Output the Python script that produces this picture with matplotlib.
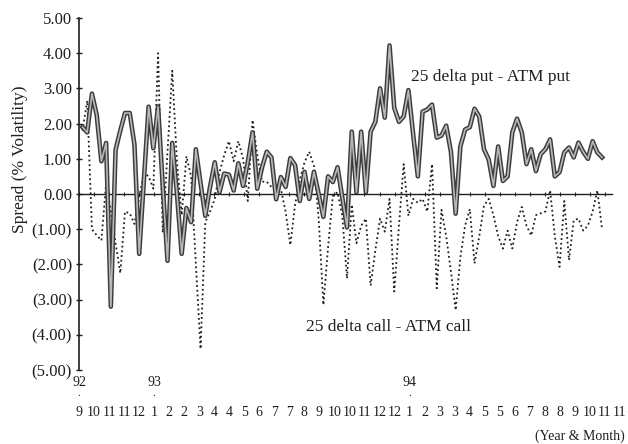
import numpy as np
import matplotlib.pyplot as plt

# weekly spreads, % volatility
put_spread = [1.9, 1.75, 2.85, 2.25, 0.93, 1.45, -3.2, 1.25, 1.8, 2.3,
              2.3, 1.4, -1.7, 0.4, 2.48, 1.3, 2.48, 0.2, -1.9, 1.45,
              0.0, -1.7, -0.4, -0.8, 1.27, 0.3, -0.62, 0.2, 0.9, 0.05,
              0.58, 0.55, 0.1, 0.87, 0.23, 0.9, 1.75, 0.15, 0.75, 1.2,
              1.04, -0.15, 0.48, 0.2, 1.02, 0.82, -0.2, 0.63, -0.14, 0.63,
              0.0, -0.65, 0.5, 0.34, 0.76, -0.1, -0.95, 1.77, 0.05, 1.77,
              0.05, 1.77, 2.05, 3.0, 2.17, 4.22, 2.45, 2.05, 2.2, 2.95,
              1.7, 0.5, 2.34, 2.4, 2.54, 1.6, 1.66, 1.94, 1.2, -0.56,
              1.35, 1.83, 1.9, 2.42, 2.2, 1.27, 0.98, 0.23, 1.35, 0.37,
              0.5, 1.75, 2.14, 1.75, 0.85, 1.27, 0.65, 1.13, 1.27, 1.55,
              0.5, 0.62, 1.18, 1.32, 1.04, 1.46, 1.2, 1.0, 1.5, 1.18,
              1.04]

call_spread = [1.8, 2.65, -1.0, -1.17, -1.32, 0.3, -0.5, -1.4, -2.25, -0.5,
               -0.55, -0.85, -0.1, 0.6, 0.5, 0.15, 4.0, -1.1, 1.2, 3.5,
               0.9, -0.6, 1.07, 0.5, -2.0, -4.4, -0.8, -0.5, -0.14, 0.62,
               1.1, 1.5, 0.93, 1.5, 1.0, -0.2, 2.1, 1.1, 0.35, 0.35,
               0.2, 0.15, 0.14, -0.5, -1.45, -0.3, 0.4, 0.9, 1.2, 0.8,
               -0.7, -3.15, -1.5, -0.05, 0.05, -0.62, -2.4, -0.3, -1.4, -0.9,
               -0.7, -2.6, -1.6, -0.7, -1.07, -0.14, -2.77, -0.9, 0.85, -0.62,
               -0.14, -0.25, -0.14, -0.5, 0.85, -2.68, -0.45, -1.2, -2.2, -3.3,
               -1.8, -0.9, -0.43, -1.97, -1.2, -0.34, -0.14, -0.6, -1.2, -1.55,
               -1.04, -1.55, -0.8, -0.37, -0.9, -1.18, -0.6, -0.55, -0.5, 0.1,
               -1.2, -2.07, -0.2, -1.88, -0.75, -0.7, -1.04, -0.9, -0.5, 0.1,
               -1.0]

month_labels = ['9', '10', '11', '11', '12', '1', '2', '2', '3', '4', '4', '5',
                '6', '7', '7', '8', '9', '10', '10', '11', '12', '12', '1', '2',
                '3', '3', '4', '5', '5', '6', '7', '8', '8', '9', '10', '11', '11']
year_labels = {0: '92', 5: '93', 22: '94'}

y_ticks = [5, 4, 3, 2, 1, 0, -1, -2, -3, -4, -5]

serif = 'Liberation Serif'
ink = '#1e1e1e'

weeks = np.arange(len(put_spread))
# month labels sit every ~3.18 weeks, first one slightly left of the axis
label_pos = -0.74 + 3.181 * np.arange(len(month_labels))

fig = plt.figure(figsize=(6.28, 4.44), dpi=100)
ax = fig.add_axes([0.1258, 0.1667, 0.8487, 0.7928])

ax.plot(weeks, put_spread, color='#3c3c3c', lw=3.3, solid_joinstyle='round', zorder=3)
ax.plot(weeks, put_spread, color='#b8b8b8', lw=1.2, solid_joinstyle='round', zorder=4)
ax.plot(weeks, call_spread, color=ink, lw=1.3, linestyle=(0, (1, 1.6)), zorder=2)

ax.set_xlim(-0.1, 112.1)
ax.set_ylim(-5, 5)

ax.spines['top'].set_visible(False)
ax.spines['right'].set_visible(False)
ax.spines['left'].set_color(ink)
ax.spines['left'].set_linewidth(1.2)
ax.spines['bottom'].set_position(('data', 0))
ax.spines['bottom'].set_color(ink)
ax.spines['bottom'].set_linewidth(1.0)

ax.set_yticks(y_ticks)
ax.set_yticklabels(['%.2f' % v if v >= 0 else '(%.2f)' % -v for v in y_ticks],
                   fontfamily=serif, fontsize=12, color=ink)
ax.tick_params(axis='y', direction='inout', length=4, width=1, pad=3, colors=ink)

ax.set_xticks(label_pos[label_pos <= 112.1])
ax.tick_params(axis='x', direction='inout', length=3, width=0.8, labelbottom=False, colors=ink)

for k, lab in enumerate(month_labels):
    ax.text(label_pos[k], -0.122, lab, transform=ax.get_xaxis_transform(),
            ha='center', va='center', fontfamily=serif, fontsize=10, color=ink,
            clip_on=False)
for k, lab in year_labels.items():
    ax.text(label_pos[k], -0.036, lab, transform=ax.get_xaxis_transform(),
            ha='center', va='center', fontfamily=serif, fontsize=10, color=ink,
            clip_on=False)
    ax.text(label_pos[k], -0.08, '.', transform=ax.get_xaxis_transform(),
            ha='center', va='bottom', fontfamily=serif, fontsize=8, color=ink,
            clip_on=False)

ax.text(1.024, -0.188, '(Year & Month)', transform=ax.transAxes, ha='right',
        va='center', fontfamily=serif, fontsize=10, color=ink, clip_on=False)

ax.set_ylabel('Spread (% Volatility)', fontfamily=serif, fontsize=12.5, color=ink)
ax.yaxis.set_label_coords(-0.095, 0.6)

ax.text(69.6, 3.32, '25 delta put - ATM put', ha='left', va='center',
        fontfamily=serif, fontsize=12.5, color=ink)
ax.text(47.3, -3.78, '25 delta call - ATM call', ha='left', va='center',
        fontfamily=serif, fontsize=12.5, color=ink)

fig.savefig('out.png', dpi=100, facecolor='white')
